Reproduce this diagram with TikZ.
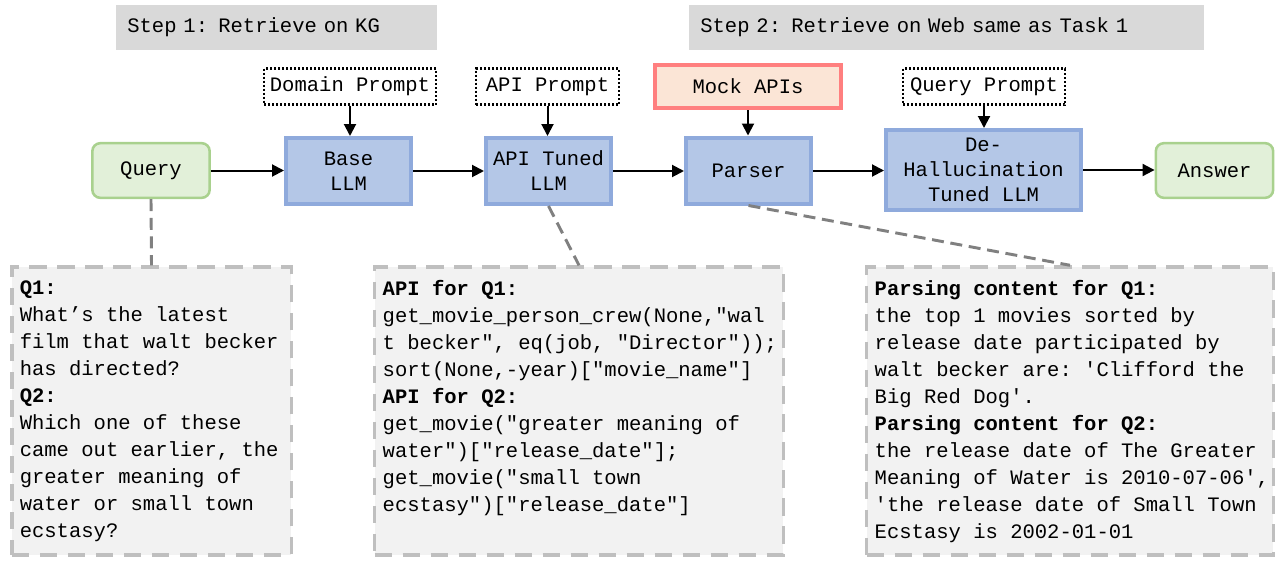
\documentclass[tikz,border=0pt]{standalone}
\usepackage{fontspec}
\setmonofont{Liberation Mono}
\usepackage{tikz}
\usetikzlibrary{arrows.meta}
\usetikzlibrary{positioning}
\definecolor{llmfill}{HTML}{B4C7E7}
\definecolor{llmline}{HTML}{8FAADC}
\definecolor{iofill}{HTML}{E2F0D9}
\definecolor{ioline}{HTML}{A9D18E}
\definecolor{mockfill}{HTML}{FBE5D6}
\definecolor{mockline}{HTML}{FF7F7F}
\definecolor{stagefill}{HTML}{D9D9D9}
\definecolor{cardfill}{HTML}{F2F2F2}
\definecolor{cardline}{HTML}{BFBFBF}
\definecolor{linkline}{HTML}{808080}
\tikzset{basic box/.style={inner sep=0pt,
                           align=center,
                           font=\ttfamily\fontsize{15.4}{18.75}\selectfont}}
\tikzset{llm/.style={basic box,draw=llmline,fill=llmfill,line width=3pt,
                     minimum width=93.75pt,minimum height=49.5pt}}
\tikzset{io/.style={basic box,draw=ioline,fill=iofill,line width=1.9pt,
                    rounded corners=6pt,minimum width=88pt,minimum height=41pt}}
\tikzset{prompt/.style={basic box,draw,line width=1.8pt,
                        dash pattern=on 1.5pt off 1.5pt,minimum height=27pt}}
\tikzset{mock/.style={basic box,draw=mockline,fill=mockfill,line width=3pt,
                      minimum width=139.5pt,minimum height=32.25pt}}
\tikzset{stage/.style={basic box,fill=stagefill,inner xsep=8.5pt,align=left,
                       minimum height=33.75pt}}
\tikzset{card/.style={draw=cardline,fill=cardfill,line width=2.6pt,
                      dash pattern=on 13pt off 8pt,inner xsep=6pt,inner ysep=10pt,
                      font=\ttfamily\fontsize{15.4}{20.25}\selectfont}}
\tikzset{edge/.style={draw,line width=1.5pt,-{Triangle[length=9pt,width=9pt]}}}
\tikzset{link/.style={draw=linkline,line width=2.2pt,dash pattern=on 9pt off 5pt}}
\newcommand{\cardtext}[2]{\makebox[#1][l]{\parbox[t][196pt][t]{340pt}{\raggedright #2}}}

\begin{document}
\begin{tikzpicture}
      [
      x=0.75pt,y=-0.75pt,
      ]

      \useasboundingbox (0,0) rectangle (1279,561);

      % steps
      \node [stage,text width=223.75pt] (S1) at (276.5,27.5) {Step 1: Retrieve on KG};
      \node [stage,text width=369.25pt] (S2) at (946.5,27.5) {Step 2: Retrieve on Web same as Task 1};

      % pipeline
      \node [io] (query) at (151,170.5) {Query};
      \node [llm] (base) at (348.5,171) {Base\\LLM};
      \node [llm] (api) at (548.5,171) {API Tuned\\LLM};
      \node [llm] (parser) at (748.5,170.5) {Parser};
      \node [llm,minimum width=146.25pt,minimum height=60pt] (dehal) at (983.5,170)
      {De-\\Hallucination\\Tuned LLM};
      \node [io] (answer) at (1214.5,170.5) {Answer};

      % inputs from above
      \node [prompt,minimum width=129pt] (domain) at (350,86.5) {Domain Prompt};
      \node [prompt,minimum width=107.25pt] (apiprompt) at (547.5,86.5) {API Prompt};
      \node [mock] (mock) at (748,86.5) {Mock APIs};
      \node [prompt,minimum width=121.5pt] (qprompt) at (984,86.5) {Query Prompt};

      % edges
      \foreach \a/\b in {query/base,base/api,api/parser,parser/dehal,dehal/answer}
      {
      \path [edge] (\a.east) -- (\a.east -| \b.west);
      }
      \foreach \a/\b in {domain/base,apiprompt/api,mock/parser,qprompt/dehal}
      {
      \path [edge] (\a.south) -- (\a.south |- \b.north);
      }

      % examples
      \node [card] (qcard) at (151.5,411) {\cardtext{197.6pt}{%
      \textbf{Q1:}\\
      What’s the latest\\
      film that walt becker\\
      has directed?\\
      \textbf{Q2:}\\
      Which one of these\\
      came out earlier, the\\
      greater meaning of\\
      water or small town\\
      ecstasy?}};

      \node [card] (apicard) at (579,411) {\cardtext{294.4pt}{%
      \textbf{API for Q1:}\\
      get\_movie\_person\_crew(None,"wal\\
      t becker", eq(job, "Director"));\\
      sort(None,-year)["movie\_name"]\\
      \textbf{API for Q2:}\\
      get\_movie("greater meaning of\\
      water")["release\_date"];\\
      get\_movie("small town\\
      ecstasy")["release\_date"]}};

      \node [card] (parsecard) at (1070,411) {\cardtext{292.9pt}{%
      \textbf{Parsing content for Q1:}\\
      the top 1 movies sorted by\\
      release date participated by\\
      walt becker are: 'Clifford the\\
      Big Red Dog'.\\
      \textbf{Parsing content for Q2:}\\
      the release date of The Greater\\
      Meaning of Water is 2010-07-06',\\
      'the release date of Small Town\\
      Ecstasy is 2002-01-01}};

      % links to examples
      \path [link] (query.south) -- (qcard.north);
      \path [link] (api.south) -- (apicard.north);
      \path [link] (parser.south) -- (parsecard.north);

    \end{tikzpicture}
\end{document}
